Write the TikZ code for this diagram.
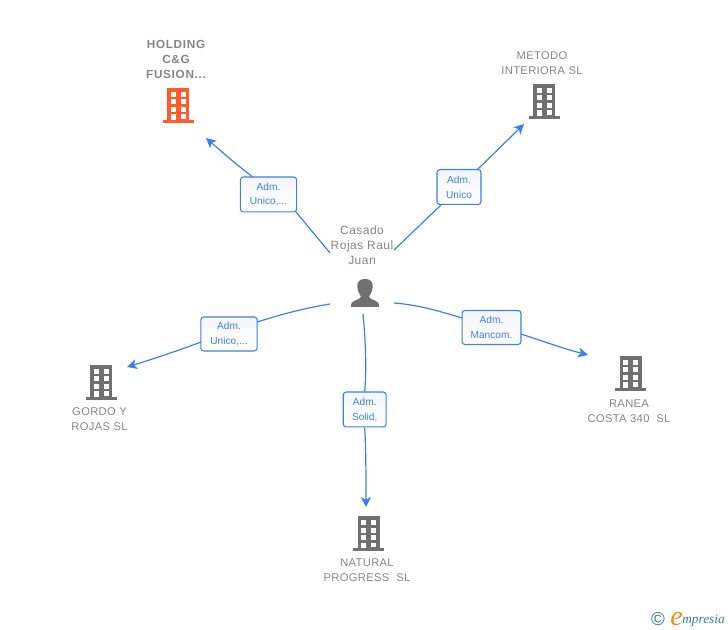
\documentclass[tikz,border=0pt]{standalone}
\usepackage{fontspec}
\setmainfont{Liberation Sans}
\newfontfamily\logofont[Ligatures=TeX]{Liberation Serif}
\newfontfamily\spacedfont[LetterSpace=3]{Liberation Sans}
\newfontfamily\personfont[LetterSpace=4]{Liberation Sans}
\newfontfamily\spacedbold[LetterSpace=6]{Liberation Sans Bold}
\usetikzlibrary{arrows.meta}
\definecolor{linkblue}{HTML}{3B82E0}
\definecolor{labelgrey}{HTML}{858585}
\definecolor{icongrey}{HTML}{707070}
\definecolor{iconred}{HTML}{FF5B2B}
\definecolor{logoteal}{HTML}{2F7F8F}
\definecolor{logoorange}{HTML}{F08A1D}
\definecolor{boxtop}{HTML}{F4F5F8}
\tikzset{
  x=0.75pt,y=-0.75pt,
  edgeline/.style={draw=linkblue,line width=0.9pt},
  arrowline/.style={edgeline,-{Stealth[length=7.5pt,width=7.5pt,inset=2pt]}},
  rolebox/.style={draw=linkblue,line width=0.8pt,rounded corners=2.2pt,top color=boxtop,bottom color=white,
    align=center,text=linkblue,font=\fontsize{7.6pt}{11.2pt}\selectfont,inner sep=0pt,anchor=center},
  orgname/.style={align=center,text=labelgrey,font=\spacedfont\fontsize{8.4pt}{11.2pt}\selectfont,inner sep=0pt},
  orgbold/.style={align=center,text=labelgrey,font=\spacedbold\fontsize{8.8pt}{11.2pt}\selectfont,inner sep=0pt},
  personname/.style={align=center,text=labelgrey,font=\personfont\fontsize{9pt}{11.2pt}\selectfont,inner sep=0pt},
  pics/tower/.style={code={
    \fill[#1] (-11,-17) rectangle (11,15);
    \fill[#1] (-15.5,15) rectangle (15.5,18);
    \foreach \yy in {-13,-5.5,2}{
      \fill[white] (-7.5,\yy) rectangle (-2.5,{\yy+5});
      \fill[white] (2.5,\yy) rectangle (7.5,{\yy+5});
    }
    \fill[white] (-7.5,9.5) rectangle (-2.5,15);
    \fill[white] (2.5,9.5) rectangle (7.5,14);
  }},
}
\begin{document}
\begin{tikzpicture}
\useasboundingbox (0,0) rectangle (728,630);

% hub end points and arrow ends
\coordinate (hubA) at (330,253);
\coordinate (hubB) at (394,250);
\coordinate (hubC) at (394,303);
\coordinate (hubD) at (363,314);
\coordinate (hubE) at (330,304);
\coordinate (endA) at (206,138);
\coordinate (endB) at (524,124);
\coordinate (endC) at (588,355);
\coordinate (endD) at (366,507);
\coordinate (endE) at (127,367);

% role boxes
\node[rolebox,minimum width=42.2pt,minimum height=26.2pt] (roleA) at (268.5,194.5) {Adm.\\Unico,...};
\node[rolebox,minimum width=33pt,minimum height=26.2pt] (roleB) at (459,187) {Adm.\\Unico};
\node[rolebox,minimum width=44.2pt,minimum height=25.5pt] (roleC) at (491.5,327.5) {Adm.\\Mancom.};
\node[rolebox,minimum width=32.2pt,minimum height=26.2pt] (roleD) at (364.7,409.5) {Adm.\\Solid.};
\node[rolebox,minimum width=42.2pt,minimum height=25.5pt] (roleE) at (229,334) {Adm.\\Unico,...};

% anchor points where connectors meet the boxes
\coordinate (roleAout) at (253,177);
\coordinate (roleAin) at (296,212);
\coordinate (roleBin) at (441,205);
\coordinate (roleBout) at (477,170);
\coordinate (roleCin) at (462,318);
\coordinate (roleCout) at (521,334);
\coordinate (roleEin) at (257,322);
\coordinate (roleEout) at (201,342);

% connectors
\draw[edgeline] (hubA) -- (roleAin);
\draw[arrowline] (roleAout) .. controls (238,166) and (222,152) .. (endA);
\draw[edgeline] (hubB) -- (roleBin);
\draw[arrowline] (roleBout) -- (endB);
\draw[edgeline] (hubC) .. controls (420,305) and (442,312) .. (roleCin);
\draw[arrowline] (roleCout) .. controls (545,342) and (565,349) .. (endC);
\draw[edgeline] (hubD) .. controls (365,335) and (367,365) .. (roleD.north);
\draw[arrowline] (roleD.south) .. controls (366,450) and (366,480) .. (endD);
\draw[edgeline] (hubE) .. controls (300,309) and (280,315) .. (roleEin);
\draw[arrowline] (roleEout) .. controls (180,350) and (150,360) .. (endE);

% organisations
\pic at (178,105) {tower=iconred};
\pic at (544,101) {tower=icongrey};
\pic at (630.5,373) {tower=icongrey};
\pic at (368.5,533) {tower=icongrey};
\pic at (101,382) {tower=icongrey};

\node[orgbold] (nameA) at (176,59.5) {HOLDING\\C\&G\\FUSION...};
\node[orgname] (nameB) at (542,63) {METODO\\INTERIORA SL};
\node[orgname] (nameC) at (629,411) {RANEA\\COSTA 340\ \ SL};
\node[orgname] (nameD) at (367,570) {NATURAL\\PROGRESS\ \ SL};
\node[orgname] (nameE) at (99.5,419) {GORDO Y\\ROJAS SL};

% person
\node[personname] (person) at (362,245) {Casado\\Rojas Raul\\Juan};
\fill[icongrey] (365,279) .. controls (358,279) and (356.5,284) .. (357.5,288)
  .. controls (358,292) and (360,295) .. (361,296.5)
  .. controls (361,298.5) and (358,299.5) .. (355,300.5)
  .. controls (352,301.5) and (351,303) .. (351,307) -- (379,307)
  .. controls (379,303) and (378,301.5) .. (375,300.5)
  .. controls (372,299.5) and (369,298.5) .. (369,296.5)
  .. controls (370,295) and (372,292) .. (372.5,288)
  .. controls (373.5,284) and (372,279) .. (365,279) -- cycle;

% logo
\node[text=logoteal,inner sep=0pt,font=\fontsize{14pt}{14pt}\selectfont] (logoC) at (658,619) {©};
\node[text=logoorange,inner sep=0pt,anchor=base west,font=\logofont\itshape\fontsize{21pt}{21pt}\selectfont] (logoE) at (670,625) {e};
\node[text=logoteal,inner sep=0pt,anchor=base west,font=\logofont\itshape\fontsize{10pt}{10pt}\selectfont] (logoW) at (682,623.5) {mpresia};
\end{tikzpicture}
\end{document}
